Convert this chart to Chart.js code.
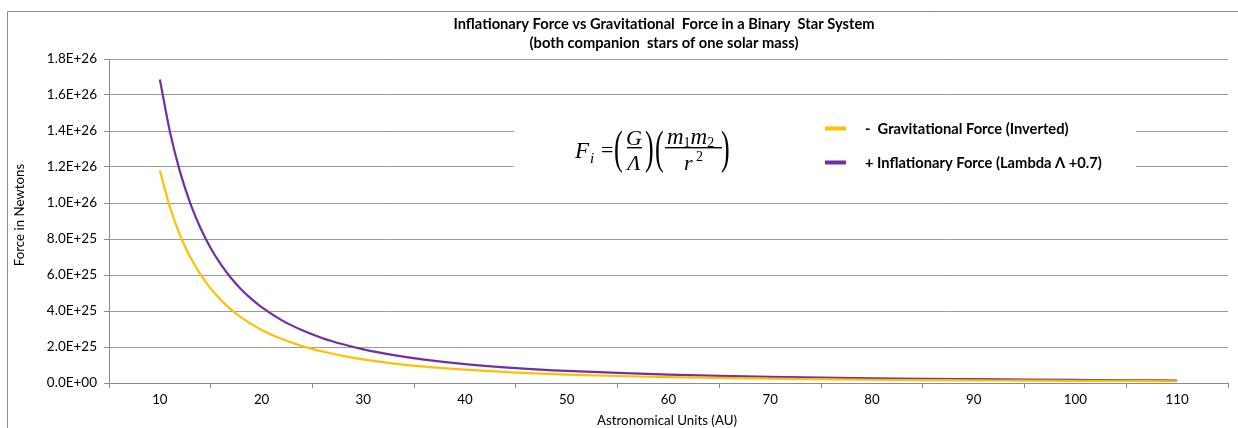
<!DOCTYPE html>
<html>
<head>
<meta charset="utf-8">
<script src="https://cdn.jsdelivr.net/npm/chart.js@4"></script>
<style>
  body { margin: 0; background: #fff; }
  #wrap { width: 1238px; height: 428px; position: relative; }
</style>
</head>
<body>
<div id="wrap"><canvas id="forceChart"></canvas></div>
<script>
// distances in AU and the two forces (Newtons)
const distanceAU = [10, 11, 12, 13, 14, 15, 16, 17, 18, 19, 20, 22, 24, 26, 28, 30, 33, 36, 40, 45,
    50, 55, 60, 65, 70, 75, 80, 85, 90, 95, 100, 105, 110];
const gravForce = [1.18e26, 9.75e25, 8.19e25, 6.98e25, 6.02e25, 5.24e25, 4.61e25, 4.08e25, 3.64e25, 3.27e25,
    2.95e25, 2.44e25, 2.05e25, 1.75e25, 1.51e25, 1.31e25, 1.08e25, 9.1e24, 7.4e24, 5.8e24,
    4.7e24, 3.9e24, 3.3e24, 2.8e24, 2.4e24, 2.1e24, 1.8e24, 1.6e24, 1.5e24, 1.3e24, 1.2e24, 1.1e24, 9.8e23];
const inflForce = [1.686e26, 1.393e26, 1.17e26, 9.97e25, 8.6e25, 7.49e25, 6.59e25, 5.83e25, 5.2e25, 4.67e25,
    4.21e25, 3.48e25, 2.93e25, 2.49e25, 2.15e25, 1.87e25, 1.55e25, 1.3e25, 1.05e25, 8.3e24,
    6.7e24, 5.6e24, 4.7e24, 4.0e24, 3.4e24, 3.0e24, 2.6e24, 2.3e24, 2.1e24, 1.9e24, 1.7e24, 1.5e24, 1.4e24];
const xTickLabels = [10, 20, 30, 40, 50, 60, 70, 80, 90, 100, 110];
const seriesLabels = ['-  Gravitational Force (Inverted)', '+ Inflationary Force (Lambda \u039B +0.7)'];
const seriesColors = ['#FFC000', '#7030A0'];
const titleLines = ['Inflationary Force vs Gravitational  Force in a Binary  Star System',
    '(both companion  stars of one solar mass)'];
const xTitle = 'Astronomical Units (AU)';
const yTitle = 'Force in Newtons';

const FONT = 'Lato, "Open Sans", sans-serif';
const SERIF = '"Liberation Serif", "DejaVu Serif", serif';

function fmtExp(v) {
    if (v === 0) return '0.0E+00';
    return v.toExponential(1).toUpperCase();
}

// formula + legend + titles, drawn by hand
const decor = {
    id: 'decor',
    beforeDatasetsDraw(chart) {
        const ctx = chart.ctx;
        ctx.save();
        ctx.fillStyle = '#fff';
        ctx.fillRect(514, 115, 622, 70);

        ctx.fillStyle = '#000';
        ctx.textBaseline = 'alphabetic';
        ctx.textAlign = 'left';
        ctx.font = 'italic 23px ' + SERIF;
        ctx.fillText('F', 575, 158);
        ctx.font = 'italic 15px ' + SERIF;
        ctx.fillText('i', 590, 163);
        ctx.font = '22px ' + SERIF;
        ctx.fillText('=', 601, 157);

        const paren = (ch, x) => {
            ctx.save();
            ctx.translate(x, 151);
            ctx.scale(1, 1.75);
            ctx.font = '26px ' + SERIF;
            ctx.textBaseline = 'middle';
            ctx.fillText(ch, 0, 0);
            ctx.restore();
        };
        paren('(', 614);
        paren(')', 645);
        paren('(', 655);
        paren(')', 721);

        ctx.textAlign = 'center';
        ctx.font = 'italic 22px ' + SERIF;
        ctx.fillText('G', 634, 145);
        ctx.fillText('\u039B', 634, 170);
        ctx.fillRect(627, 147, 15, 1.4);

        ctx.textAlign = 'left';
        let x = 667;
        const part = (t, size, dy) => {
            ctx.font = (size > 15 ? 'italic ' : '') + size + 'px ' + SERIF;
            ctx.fillText(t, x, 144 + dy);
            x += ctx.measureText(t).width;
        };
        part('m', 23, 0); part('1', 14, 3); part('m', 23, 0); part('2', 14, 3);
        ctx.fillRect(665, 147, 57, 1.4);
        ctx.font = 'italic 22px ' + SERIF;
        ctx.fillText('r', 684, 170);
        ctx.font = '14px ' + SERIF;
        ctx.fillText('2', 696, 161);
        ctx.restore();
    },
    afterDraw(chart) {
        const ctx = chart.ctx;
        ctx.save();
        // outer frame
        ctx.strokeStyle = '#8c8c8c';
        ctx.lineWidth = 1;
        ctx.beginPath();
        ctx.moveTo(7.5, 428);
        ctx.lineTo(7.5, 11.5);
        ctx.lineTo(1238, 11.5);
        ctx.stroke();

        ctx.fillStyle = '#000';
        ctx.textAlign = 'center';
        ctx.textBaseline = 'middle';
        ctx.font = 'bold 14.7px ' + FONT;
        ctx.fillText(titleLines[0], 664, 24);
        ctx.fillText(titleLines[1], 664, 43);

        ctx.font = '13.3px ' + FONT;
        ctx.fillText(xTitle, 667, 421);
        ctx.save();
        ctx.translate(20, 215);
        ctx.rotate(-Math.PI / 2);
        ctx.fillText(yTitle, 0, 0);
        ctx.restore();

        // legend
        ctx.textAlign = 'left';
        ctx.font = 'bold 14.7px ' + FONT;
        chart.data.datasets.forEach((ds, i) => {
            const y = 128 + i * 34;
            ctx.fillStyle = ds.borderColor;
            ctx.fillRect(825, y - 1.5, 21, 4);
            ctx.fillStyle = '#000';
            ctx.fillText(ds.label, 865, y + 1);
        });
        ctx.restore();
    }
};

new Chart(document.getElementById('forceChart'), {
    type: 'line',
    data: {
        datasets: [
            {
                label: seriesLabels[0],
                data: distanceAU.map((d, i) => ({ x: d, y: gravForce[i] })),
                borderColor: seriesColors[0],
                borderWidth: 2.2,
                pointRadius: 0,
                cubicInterpolationMode: 'monotone'
            },
            {
                label: seriesLabels[1],
                data: distanceAU.map((d, i) => ({ x: d, y: inflForce[i] })),
                borderColor: seriesColors[1],
                borderWidth: 2.2,
                pointRadius: 0,
                cubicInterpolationMode: 'monotone'
            }
        ]
    },
    options: {
        responsive: true,
        maintainAspectRatio: false,
        animation: false,
        layout: { padding: { top: 59, right: 10, left: 0, bottom: 0 } },
        plugins: {
            legend: { display: false },
            title: { display: false },
            tooltip: { enabled: false }
        },
        scales: {
            x: {
                type: 'linear',
                min: 5,
                max: 115,
                afterFit: s => { s.height = 45; },
                afterBuildTicks: s => {
                    const t = [];
                    for (let v = 5; v <= 115; v += 5) t.push({ value: v });
                    s.ticks = t;
                },
                border: { color: '#8c8c8c' },
                grid: {
                    drawOnChartArea: false,
                    tickLength: 5,
                    tickColor: c => (c.tick && c.tick.value % 10 === 5) ? '#8c8c8c' : 'rgba(0,0,0,0)'
                },
                ticks: {
                    autoSkip: false,
                    maxRotation: 0,
                    padding: 4,
                    color: '#000',
                    font: { family: FONT, size: 13.3 },
                    callback: v => xTickLabels.includes(v) ? String(v) : ''
                }
            },
            y: {
                min: 0,
                max: 1.8e26,
                afterFit: s => { s.width = 109; },
                border: { color: '#8c8c8c' },
                grid: { color: '#9a9a9a', tickLength: 5, tickColor: '#8c8c8c' },
                ticks: {
                    stepSize: 2e25,
                    padding: 7,
                    color: '#000',
                    font: { family: FONT, size: 13.5 },
                    callback: v => fmtExp(v)
                }
            }
        }
    },
    plugins: [decor]
});
</script>
</body>
</html>
